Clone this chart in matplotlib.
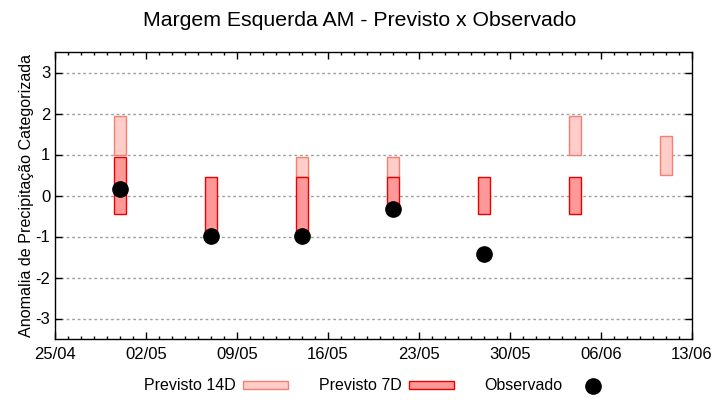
import datetime as dt
import numpy as np
import matplotlib
matplotlib.use('Agg')
import matplotlib.pyplot as plt
import matplotlib.dates as mdates
from matplotlib.patches import Patch
from matplotlib.lines import Line2D

plt.rcParams['font.family'] = ['Liberation Sans', 'DejaVu Sans']
plt.rcParams['axes.unicode_minus'] = False

# semanas (datas centrais das barras)
datas = ['2024-04-30', '2024-05-07', '2024-05-14', '2024-05-21',
         '2024-05-28', '2024-06-04', '2024-06-11']

# previsto 14 dias: limite inferior / superior (nan = sem previsao)
p14_ini = [1.0, np.nan, 0.45, 0.45, np.nan, 1.0, 0.5]
p14_fim = [1.95, np.nan, 0.95, 0.95, np.nan, 1.95, 1.45]

# previsto 7 dias
p7_ini = [-0.45, -0.95, -0.95, -0.45, -0.45, -0.45, np.nan]
p7_fim = [0.95, 0.45, 0.45, 0.45, 0.45, 0.45, np.nan]

# observado
obs = [0.17, -0.98, -0.98, -0.34, -1.42, np.nan, np.nan]

x = mdates.date2num([dt.datetime.strptime(d, '%Y-%m-%d') for d in datas])
p14_ini = np.array(p14_ini); p14_fim = np.array(p14_fim)
p7_ini = np.array(p7_ini); p7_fim = np.array(p7_fim)

fig = plt.figure(figsize=(7.2, 4.0), dpi=100)
ax = fig.add_axes([55/720, 1-339/400, (692-55)/720, (339-52)/400])

cor14, borda14 = '#ffcdc9', '#f5806f'
cor7, borda7 = '#ff9999', '#ee0000'

ax.bar(x, p14_fim - p14_ini, bottom=p14_ini, width=0.92, color=cor14,
       edgecolor=borda14, linewidth=1.0, zorder=3)
ax.bar(x, p7_fim - p7_ini, bottom=p7_ini, width=0.92, color=cor7,
       edgecolor=borda7, linewidth=1.0, zorder=4)
ax.plot(x, obs, 'o', color='black', markersize=11, zorder=5)

# eixo x
x0 = mdates.date2num(dt.datetime(2024, 4, 25))
x1 = mdates.date2num(dt.datetime(2024, 6, 13))
ax.set_xlim(x0, x1)
ax.set_xticks(np.arange(x0, x1 + 1, 7))
ax.set_xticks(np.arange(x0, x1 + 1, 1), minor=True)
ax.xaxis.set_major_formatter(mdates.DateFormatter('%d/%m'))

ax.set_ylim(-3.5, 3.5)
ax.set_yticks(np.arange(-3, 4, 1))
ax.grid(axis='y', color='#a0a0a0', linestyle=(0, (2, 2)), linewidth=1, zorder=0)

ax.tick_params(which='both', direction='in', top=True, right=True, labelsize=12)
ax.tick_params(which='major', length=5, width=1)
ax.tick_params(which='minor', length=2.5, width=1)
ax.tick_params(axis='x', pad=6)
for s in ax.spines.values():
    s.set_linewidth(1)

ax.set_ylabel('Anomalia de Precipitação Categorizada', fontsize=11.6, labelpad=1)
fig.suptitle('Margem Esquerda AM - Previsto x Observado', fontsize=15.3, y=0.972)

handles = [Patch(facecolor=cor14, edgecolor=borda14, linewidth=1.0),
           Patch(facecolor=cor7, edgecolor=borda7, linewidth=1.0),
           Line2D([], [], marker='o', color='black', linestyle='none', markersize=11)]
fig.legend(handles, ['Previsto 14D', 'Previsto 7D', 'Observado'], ncol=3,
           loc='center', bbox_to_anchor=(0.527, 0.035), frameon=False, markerfirst=False,
           fontsize=11.5, handlelength=2.8, handleheight=0.45, columnspacing=1.9,
           handletextpad=0.5)

fig.savefig('out.png', dpi=100)
